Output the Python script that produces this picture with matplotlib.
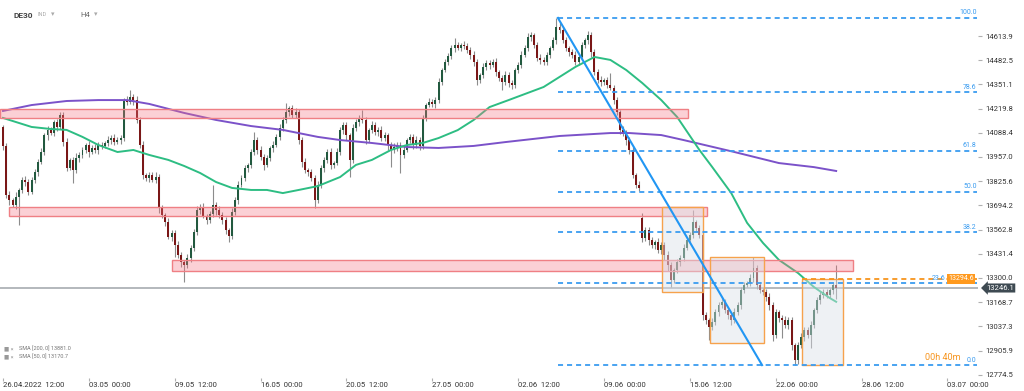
import matplotlib
matplotlib.use("Agg")
import matplotlib.pyplot as plt
from matplotlib.patches import Rectangle
import numpy as np

plt.rcParams["font.family"] = ["Roboto", "DejaVu Sans"]

# DE30, H4 candles from 26.04.2022 12:00
first_open = 14120
gap_opens = {201: 13626}  # weekend gap before 13.06
closes = [
    14017, 13751, 13723, 13696, 13740, 13778, 13832, 13821, 13767, 13832,
    13875, 13930, 13984, 14076, 14104, 14087, 14147, 14120, 14185, 14038,
    13897, 13941, 13886, 13951, 13968, 13995, 14022, 13984, 14006, 13995,
    14022, 14017, 14033, 14049, 14060, 14038, 14049, 14060, 14266, 14256,
    14283, 14266, 14158, 14022, 13859, 13843, 13859, 13832, 13848, 13680,
    13642, 13604, 13523, 13544, 13479, 13425, 13387, 13370, 13409, 13463,
    13550, 13669, 13685, 13637, 13615, 13647, 13696, 13669, 13642, 13615,
    13561, 13528, 13658, 13723, 13805, 13843, 13897, 13914, 13984, 14049,
    13995, 13957, 13914, 13951, 14006, 14022, 14066, 14114, 14158, 14201,
    14223, 14185, 14201, 14049, 13930, 13886, 13875, 13843, 13723, 13805,
    13897, 13941, 13984, 13914, 13924, 13984, 14104, 14131, 14076, 13941,
    14114, 14147, 14169, 14158, 14049, 14104, 14131, 14093, 14104, 14060,
    14076, 14022, 13995, 14011, 14022, 13968, 13995, 14049, 14066, 14022,
    14049, 14017, 14169, 14239, 14256, 14245, 14266, 14364, 14429, 14473,
    14505, 14549, 14565, 14549, 14565, 14560, 14538, 14511, 14473, 14375,
    14402, 14446, 14467, 14456, 14473, 14418, 14386, 14364, 14402, 14359,
    14348, 14429, 14456, 14511, 14549, 14609, 14619, 14565, 14494, 14484,
    14473, 14511, 14549, 14592, 14663, 14647, 14592, 14549, 14527, 14511,
    14473, 14500, 14565, 14592, 14619, 14527, 14418, 14375, 14364, 14375,
    14348, 14332, 14266, 14201, 14104, 14087, 14049, 13995, 13859, 13805,
    13789, 13517, 13561, 13506, 13479, 13495, 13452, 13479, 13425, 13370,
    13289, 13343, 13387, 13409, 13463, 13506, 13533, 13604, 13571, 13533,
    13099, 13072, 13034, 13061, 13115, 13153, 13170, 13126, 13099, 13072,
    13115, 13153, 13235, 13262, 13273, 13300, 13354, 13262, 13235, 13224,
    13197, 13153, 12990, 13115, 13083, 13072, 13045, 13072, 12936, 12855,
    12936, 12980, 13018, 12990, 13045, 13126, 13180, 13208, 13224, 13208,
    13235, 13262, 13246.1,
]
hi_wick = [
    11, 15, 20, 10, 25, 12, 18, 22, 14, 16,
    18, 14, 22, 12, 20, 16, 10, 18, 16, 14,
    20, 12, 16, 25, 14, 18, 12, 20, 16, 22,
    14, 18, 12, 20, 16, 22, 14, 18, 12, 20,
    38, 16, 22, 14, 20, 12, 18, 16, 25, 14,
    18, 12, 20, 16, 14, 22, 18, 12, 20, 16,
    14, 20, 16, 22, 12, 18, 110, 14, 20, 16,
    18, 12, 22, 16, 20, 14, 18, 12, 16, 43,
    16, 20, 14, 18, 12, 22, 16, 20, 14, 49,
    12, 18, 20, 14, 16, 22, 12, 18, 16, 20,
    14, 18, 16, 22, 12, 20, 16, 14, 18, 12,
    20, 16, 14, 43, 18, 12, 22, 16, 14, 20,
    16, 12, 18, 20, 14, 16, 22, 12, 18, 14,
    20, 16, 18, 12, 22, 14, 16, 20, 12, 18,
    14, 16, 38, 18, 12, 20, 16, 14, 22, 18,
    12, 20, 16, 14, 18, 22, 12, 16, 20, 14,
    18, 12, 16, 20, 14, 22, 18, 12, 16, 20,
    14, 18, 12, 16, 49, 20, 14, 18, 12, 16,
    22, 14, 18, 12, 20, 16, 14, 18, 22, 12,
    16, 65, 14, 18, 12, 20, 16, 14, 18, 12,
    20, 26, 16, 14, 18, 12, 22, 16, 14, 20,
    18, 12, 16, 14, 20, 16, 18, 65, 12, 16,
    14, 18, 12, 20, 16, 14, 22, 18, 12, 16,
    20, 14, 18, 16, 12, 22, 60, 14, 18, 12,
    16, 20, 14, 18, 12, 16, 22, 14, 18, 12,
    16, 20, 14, 18, 22, 12, 16, 20, 14, 18,
    12, 16, 108,
]
lo_wick = [
    22, 18, 25, 12, 20, 150, 15, 22, 18, 10,
    14, 20, 12, 18, 25, 10, 16, 22, 12, 20,
    18, 12, 70, 15, 20, 14, 18, 25, 12, 16,
    20, 14, 10, 18, 22, 16, 12, 20, 15, 18,
    12, 25, 18, 14, 20, 16, 22, 12, 18, 25,
    16, 20, 14, 22, 65, 18, 25, 92, 16, 20,
    14, 18, 22, 12, 20, 16, 18, 25, 14, 20,
    22, 30, 16, 14, 20, 12, 18, 22, 16, 14,
    20, 18, 25, 14, 16, 20, 12, 18, 14, 16,
    20, 14, 18, 22, 25, 16, 20, 14, 43, 18,
    16, 20, 14, 22, 18, 12, 16, 20, 25, 92,
    18, 14, 20, 16, 22, 12, 18, 14, 20, 16,
    18, 25, 92, 14, 20, 98, 16, 12, 18, 22,
    16, 20, 14, 18, 12, 16, 20, 14, 18, 12,
    16, 14, 20, 12, 18, 16, 14, 20, 22, 25,
    18, 14, 16, 20, 12, 22, 18, 43, 16, 20,
    22, 16, 14, 18, 12, 16, 20, 14, 18, 22,
    16, 14, 18, 12, 20, 16, 14, 18, 22, 16,
    14, 18, 12, 16, 20, 25, 18, 14, 20, 16,
    18, 14, 20, 16, 22, 18, 25, 20, 16, 18,
    14, 20, 18, 25, 16, 22, 18, 20, 25, 30,
    38, 18, 14, 20, 16, 12, 18, 14, 20, 16,
    25, 20, 70, 18, 16, 22, 14, 18, 20, 25,
    16, 14, 20, 18, 12, 16, 20, 22, 18, 16,
    20, 25, 30, 18, 22, 100, 18, 20, 25, 28,
    20, 16, 22, 18, 70, 14, 18, 20, 16, 14,
    18, 20, 60,
]

# moving averages (bar index, value)
sma200_idx = [0, 9, 20, 30, 39, 46, 57, 67, 78, 88, 99, 106, 116, 127, 137,
              148, 158, 175, 191, 197, 207, 214, 230, 244, 255, 262]
sma200_val = [14207, 14239, 14261, 14266, 14266, 14245, 14196, 14158, 14125,
              14104, 14066, 14049, 14033, 14011, 14006, 14017, 14038, 14071,
              14087, 14087, 14076, 14049, 13984, 13924, 13902, 13881.0]
sma50_idx = [0, 9, 15, 20, 25, 30, 36, 41, 46, 52, 57, 62, 67, 72, 78, 83, 88,
             93, 99, 106, 111, 116, 122, 127, 132, 137, 143, 148, 153, 159,
             170, 180, 186, 191, 196, 201, 207, 212, 219, 223, 229, 234, 239,
             244, 250, 255, 260, 262]
sma50_val = [14169, 14120, 14109, 14104, 14066, 14022, 13984, 13995, 13968,
             13941, 13908, 13870, 13821, 13789, 13778, 13778, 13761, 13778,
             13799, 13848, 13914, 13941, 13995, 14022, 14033, 14060, 14103,
             14158, 14228, 14266, 14337, 14446, 14500, 14484, 14429, 14359,
             14266, 14174, 13995, 13903, 13761, 13599, 13490, 13398, 13327,
             13251, 13191, 13170.7]

# support / resistance zones: (low, high, first bar, last bar)
zones = [
    (14168.7, 14217.5, -1.0, 215.4),
    (13636.5, 13685.4, 1.9, 221.4),
    (13337.9, 13397.6, 53.1, 267.3),
]
# consolidation boxes: (low, high, first bar, last bar)
boxes = [
    (13224, 13685, 207.2, 220.1),
    (12947, 13414, 222.3, 239.3),
    (12827, 13294.6, 251.3, 264.2),
]

swing_high, swing_low = 14712, 12827
swing_start, swing_end = 174.5, 238.7
fib_levels = [0.0, 23.6, 38.2, 50.0, 61.8, 78.6, 100.0]
box_level = 13294.6
last_price = 13246.1

ytick_vals = [14613.9, 14482.5, 14351.1, 14219.8, 14088.4, 13957.0, 13825.6,
              13694.2, 13562.8, 13431.4, 13300.0, 13168.7, 13037.3, 12905.9,
              12774.5]
xtick_idx = [0, 27, 54, 81, 108, 135, 162, 189, 216, 243, 270, 297]
xtick_lbl = ["26.04.2022  12:00", "03.05  00:00", "09.05  12:00",
             "16.05  00:00", "20.05  12:00", "27.05  00:00", "02.06  12:00",
             "09.06  00:00", "15.06  12:00", "22.06  00:00", "28.06  12:00",
             "03.07  00:00"]

W, H = 1024, 391


def fpos(x, y):
    return x / W, 1 - y / H


fig = plt.figure(figsize=(W / 100, H / 100), dpi=100)
ax = fig.add_axes([0, 1 - 378 / H, 978 / W, 378 / H])
ax.set_xlim(-0.94, 306.6)
ax.set_ylim(12756.9, 14809.4)

idx = np.arange(len(closes))
c = np.array(closes, dtype=float)
o = np.concatenate([[first_open], c[:-1]])
for k, v in gap_opens.items():
    o[k] = v
hi = np.maximum(o, c) + np.array(hi_wick)
lo = np.minimum(o, c) - np.array(lo_wick)
up = c >= o
body = np.where(np.abs(c - o) < 4, 4, c - o)

ax.vlines(idx, lo, hi, color="#8c8c8c", lw=0.8, zorder=2)
ax.bar(idx[up], body[up], bottom=o[up], width=0.62, color="#22593f", zorder=3)
ax.bar(idx[~up], body[~up], bottom=o[~up], width=0.62, color="#7a1717", zorder=3)

ax.plot(sma200_idx, sma200_val, color="#7b52c9", lw=1.4, zorder=4)
ax.plot(sma50_idx, sma50_val, color="#2dbd83", lw=1.4, zorder=4)

for zlo, zhi, x0, x1 in zones:
    ax.add_patch(Rectangle((x0, zlo), x1 - x0, zhi - zlo, fc=(0.96, 0.45, 0.5, 0.33),
                           ec="#ef7f84", lw=1.0, zorder=5))
for blo, bhi, x0, x1 in boxes:
    ax.add_patch(Rectangle((x0, blo), x1 - x0, bhi - blo, fc=(0.86, 0.88, 0.91, 0.45),
                           ec="#f6a24c", lw=1.0, zorder=5))

# fibonacci retracement of the June sell-off
fib_blue = "#3a9cf0"
fib_label_x = {23.6: 296.5, 0.0: 306.2}
for lvl in fib_levels:
    p = swing_low + lvl / 100 * (swing_high - swing_low)
    ax.plot([swing_start, 306.2], [p, p], color=fib_blue, lw=1.3,
            dashes=(2.8, 2.2), zorder=6)
    ax.text(fib_label_x.get(lvl, 306.2), p + 8, f"{lvl:.1f}", color=fib_blue,
            fontsize=5, ha="right", va="bottom", zorder=8)
ax.plot([swing_start, swing_end], [swing_high, swing_low], color="#2196f3",
        lw=1.5, zorder=6)

ax.plot([boxes[2][2], 306.2], [box_level, box_level], color="#f7941d", lw=1.3,
        dashes=(2.8, 2.2), zorder=6)
ax.axhline(last_price, color="#a7abb0", lw=1.2, zorder=1)

ax.text(301.0, 12845, "00h 40m", color="#f7941d", fontsize=6.5, ha="right",
        va="bottom", zorder=8)

ax.yaxis.tick_right()
ax.set_yticks(ytick_vals)
ax.set_yticklabels([f"{v:.1f}" for v in ytick_vals])
ax.set_xticks(xtick_idx)
ax.set_xticklabels(xtick_lbl)
for t in ax.get_xticklabels():
    t.set_horizontalalignment("left")
ax.tick_params(axis="y", length=3, color="#b0b0b0", labelcolor="#333333",
               labelsize=5.5, pad=2)
ax.tick_params(axis="x", length=2, color="#b0b0b0", labelcolor="#333333",
               labelsize=5.5, pad=1)
for s in ax.spines.values():
    s.set_visible(False)

# price tags on the right
fig.text(*fpos(948, 279), "13294.6", color="white", fontsize=5, ha="left",
         va="center", bbox=dict(boxstyle="square,pad=0.15", fc="#ff9a1f", ec="none"))
fig.text(*fpos(986, 288), f"{last_price:.1f}", color="white", fontsize=5.5,
         ha="left", va="center",
         bbox=dict(boxstyle="larrow,pad=0.2", fc="#3e4a52", ec="none"))

# header
fig.text(*fpos(13, 15), "DE30", fontsize=6, fontweight="bold", color="#444444",
         va="center")
fig.text(*fpos(38, 15), "IND", fontsize=4, color="#aaaaaa", va="center")
fig.text(*fpos(51, 15), "▾", fontsize=5, color="#aaaaaa", va="center")
fig.text(*fpos(80, 15), "H4", fontsize=5.5, color="#666666", va="center")
fig.text(*fpos(94, 15), "▾", fontsize=5, color="#aaaaaa", va="center")

# indicator legend
fig.text(*fpos(4, 349), "■ ×", fontsize=4, color="#999999", va="center")
fig.text(*fpos(19, 349), "SMA [200, 0] 13881.0", fontsize=4, color="#777777",
         va="center")
fig.text(*fpos(4, 357), "■ ×", fontsize=4, color="#999999", va="center")
fig.text(*fpos(19, 357), "SMA [50, 0] 13170.7", fontsize=4, color="#777777",
         va="center")

fig.savefig("out.png", dpi=100)
